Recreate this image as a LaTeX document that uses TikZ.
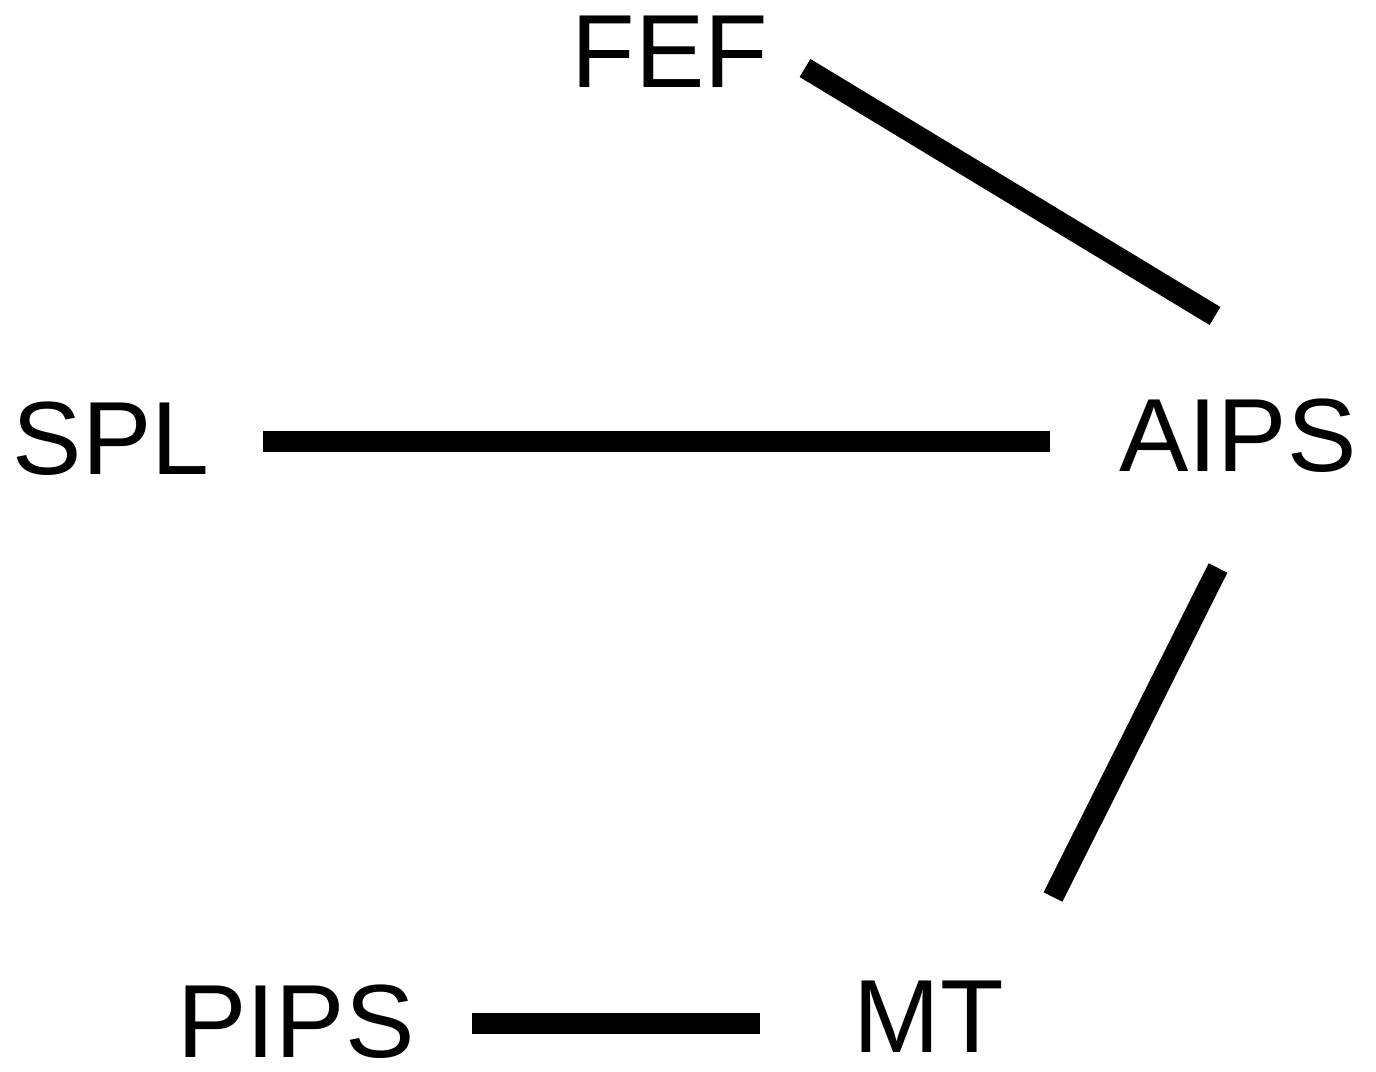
\documentclass[tikz,border=0pt]{standalone}
\usepackage{fontspec}
\setmainfont{Liberation Sans}
\begin{document}
\begin{tikzpicture}[x=1pt,y=-1pt,
  area/.style={inner sep=0pt,font=\fontsize{104}{104}\selectfont},
  link/.style={line width=21pt,line cap=butt}]
\useasboundingbox (0,0) rectangle (1376,1071);
\node[area] (fef)  at (670,52)   {FEF};
\node[area] (spl)  at (111,439)  {SPL};
\node[area] (aips) at (1238,436) {AIPS};
\node[area] (pips) at (296,1022) {PIPS};
\node[area] (mt)   at (929,1017) {MT};
\draw[link] ([shift={(135,16)}]fef.center) -- ([shift={(-23,-120)}]aips.center);
\draw[link] ([shift={(152,2)}]spl.center) -- ([shift={(-188,5)}]aips.center);
\draw[link] ([shift={(-20,132)}]aips.center) -- ([shift={(124,-120)}]mt.center);
\draw[link] ([shift={(176,1)}]pips.center) -- ([shift={(-169,6)}]mt.center);
\end{tikzpicture}
\end{document}
